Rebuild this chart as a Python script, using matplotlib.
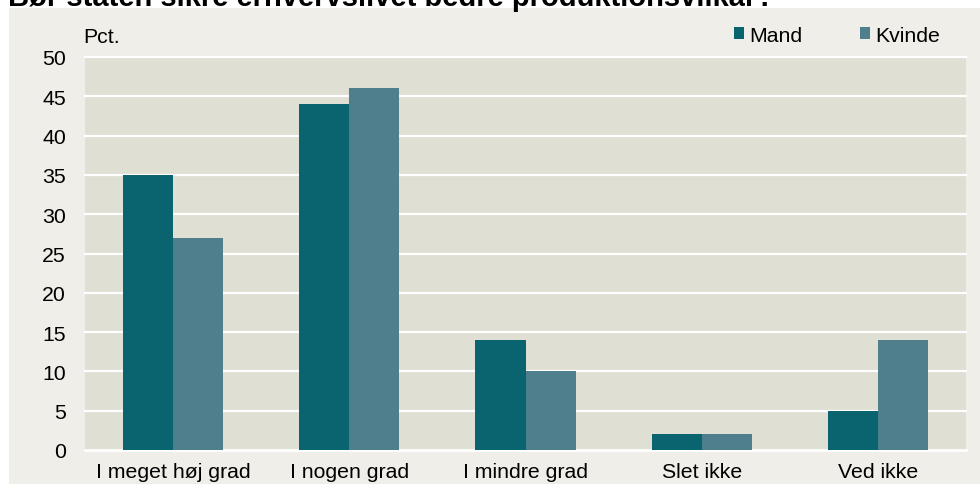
import matplotlib
matplotlib.use("Agg")
import matplotlib.pyplot as plt
import numpy as np

categories = ["I meget høj grad", "I nogen grad", "I mindre grad", "Slet ikke", "Ved ikke"]
mand = [35, 44, 14, 2, 5]
kvinde = [27, 46, 10, 2, 14]
series_names = ["Mand", "Kvinde"]
yticks = [0, 5, 10, 15, 20, 25, 30, 35, 40, 45, 50]
title = "Bør staten sikre erhvervslivet bedre produktionsvilkår?"

plt.rcParams['font.family'] = ['Liberation Sans', 'DejaVu Sans']

W, H = 980, 485
fig = plt.figure(figsize=(W / 100, H / 100), dpi=100)
fig.patch.set_facecolor("white")

# panel background
bg = fig.add_axes([9 / W, 0, (W - 9) / W, (H - 9) / H], zorder=-5)
bg.set_facecolor("#EFEEE8")
bg.set_xticks([]); bg.set_yticks([])
for s in bg.spines.values():
    s.set_visible(False)

left, right, top, bottom = 85, 966, 58, 451
ax = fig.add_axes([left / W, (H - bottom) / H, (right - left) / W, (bottom - top) / H], zorder=1)
ax.set_facecolor("#E0DFD4")

c_mand = "#09646F"
c_kvinde = "#4F7F8C"
x = np.arange(len(categories))
bw = 50 / 176
ax.bar(x - bw / 2, mand, width=bw, color=c_mand, zorder=3, label=series_names[0])
ax.bar(x + bw / 2, kvinde, width=bw, color=c_kvinde, zorder=3, label=series_names[1])

ax.set_xlim(-0.5, len(categories) - 0.5)
ax.set_ylim(0, 50)
ax.set_yticks(yticks)
ax.set_yticklabels([str(v) for v in yticks])
ax.set_xticks(x)
ax.set_xticklabels(categories)
for v in yticks:
    ax.axhline(v, color="white", lw=2.0 if v == 0 else 1.6, zorder=2, clip_on=False)
for s in ax.spines.values():
    s.set_visible(False)
fs = 15.3
ax.tick_params(axis="both", length=0, labelsize=fs, colors="black")
ax.tick_params(axis="y", pad=13.7)
ax.tick_params(axis="x", pad=9)

fig.text(83 / W, 1 - 37.5 / H, "Pct.", fontsize=fs, ha="left", va="center")

# legend
leg = ax.legend(loc="center right", bbox_to_anchor=(940 / W, 1 - 36 / H), bbox_transform=fig.transFigure,
                ncol=2, frameon=False, fontsize=fs, handlelength=0.47, handleheight=0.47,
                handletextpad=0.24, columnspacing=2.7, borderaxespad=0, borderpad=0)

fig.text(8 / W, 1 - 6 / H, title, fontsize=21, fontweight="bold", ha="left", va="baseline")

fig.savefig("out.png", dpi=100, facecolor=fig.get_facecolor())
